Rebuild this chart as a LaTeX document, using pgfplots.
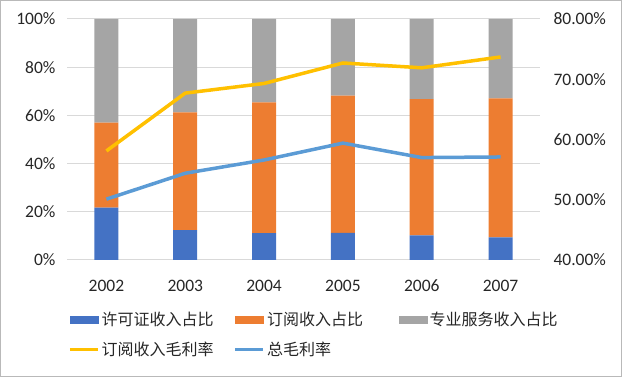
\documentclass[border=0pt]{standalone}
\usepackage{pgfplots}
\pgfplotsset{compat=1.18}
\usepackage{fontspec}
\setmainfont{Carlito}
\newfontfamily\cjk{Noto Sans CJK SC}
\definecolor{cBlue}{HTML}{4472C4}
\definecolor{cOrange}{HTML}{ED7D31}
\definecolor{cGray}{HTML}{A5A5A5}
\definecolor{cYellow}{HTML}{FFC000}
\definecolor{cLBlue}{HTML}{5B9BD5}
\definecolor{cGrid}{HTML}{D9D9D9}
\pgfplotstableread{
x lic sub svc
0 21.7 35.3 43.0
1 12.4 48.9 38.7
2 11.1 54.3 34.6
3 11.3 56.9 31.8
4 10.2 56.6 33.2
5 9.4 57.7 32.9
}\shares
\pgfplotstableread{
x subm totm
0 58.1 50.1
1 67.7 54.4
2 69.3 56.6
3 72.7 59.4
4 71.9 57.0
5 73.7 57.1
}\margins
\begin{document}
\begin{tikzpicture}
\useasboundingbox (0,0) rectangle (622bp,377bp);
\draw[color=gray!55, line width=1bp] (0.5bp,0.5bp) rectangle (621.5bp,376.5bp);
\begin{axis}[
  at={(67bp,117bp)}, anchor=south west,
  scale only axis, width=473bp, height=241bp,
  xmin=-0.5, xmax=5.5, ymin=0, ymax=100,
  xtick={0,...,5}, xticklabels={2002,2003,2004,2005,2006,2007},
  ytick={0,20,...,100},
  yticklabel={\pgfmathprintnumber{\tick}\%},
  /pgf/number format/assume math mode=true,
  tick label style={font=\fontsize{17.5bp}{20bp}\selectfont, color=black!85},
  axis line style={draw=none},
  major tick length=0pt,
  ymajorgrids, grid style={color=cGrid, line width=1bp},
  ybar stacked, bar width=24bp,
  yticklabel style={xshift=-8bp},
  xticklabel style={yshift=-16bp, text height=12bp, text depth=0bp},
]
\addplot[fill=cBlue, draw=none] table[x=x, y=lic] {\shares};
\addplot[fill=cOrange, draw=none] table[x=x, y=sub] {\shares};
\addplot[fill=cGray, draw=none] table[x=x, y=svc] {\shares};
\end{axis}
\begin{axis}[
  at={(67bp,117bp)}, anchor=south west,
  scale only axis, width=473bp, height=241bp,
  xmin=-0.5, xmax=5.5, ymin=40, ymax=80,
  axis x line=none, axis y line*=right,
  ytick={40,50,...,80},
  yticklabel={\pgfmathprintnumber[fixed,fixed zerofill,precision=2]{\tick}\%},
  /pgf/number format/assume math mode=true,
  tick label style={font=\fontsize{17.5bp}{20bp}\selectfont, color=black!85},
  axis line style={draw=none},
  major tick length=0pt,
  yticklabel style={xshift=10bp},
  legend columns=3,
  legend style={at={(0.002,-0.215)}, anchor=north west, draw=none, fill=none,
    font=\cjk\fontsize{16bp}{19bp}\selectfont, text=black!85, inner sep=0pt, row sep=15bp,
    nodes={inner xsep=2bp, inner ysep=0pt}},
  legend cell align=left,
]
\addlegendimage{legend image code/.code={\fill[cBlue] (0bp,-3.5bp) rectangle (28bp,3.5bp);}}
\addlegendentry{\makebox[130bp][l]{许可证收入占比}}
\addlegendimage{legend image code/.code={\fill[cOrange] (0bp,-3.5bp) rectangle (28bp,3.5bp);}}
\addlegendentry{\makebox[130bp][l]{订阅收入占比}}
\addlegendimage{legend image code/.code={\fill[cGray] (0bp,-3.5bp) rectangle (28bp,3.5bp);}}
\addlegendentry{\makebox[130bp][l]{专业服务收入占比}}
\addplot[color=cYellow, line width=3.5bp, line join=round,
  legend image code/.code={\draw[cYellow, line width=3.5bp] (0bp,0bp) -- (28bp,0bp);}]
  table[x=x, y=subm] {\margins};
\addlegendentry{\makebox[130bp][l]{订阅收入毛利率}}
\addplot[color=cLBlue, line width=3.5bp, line join=round,
  legend image code/.code={\draw[cLBlue, line width=3.5bp] (0bp,0bp) -- (28bp,0bp);}]
  table[x=x, y=totm] {\margins};
\addlegendentry{\makebox[130bp][l]{总毛利率}}
\end{axis}
\end{tikzpicture}
\end{document}
